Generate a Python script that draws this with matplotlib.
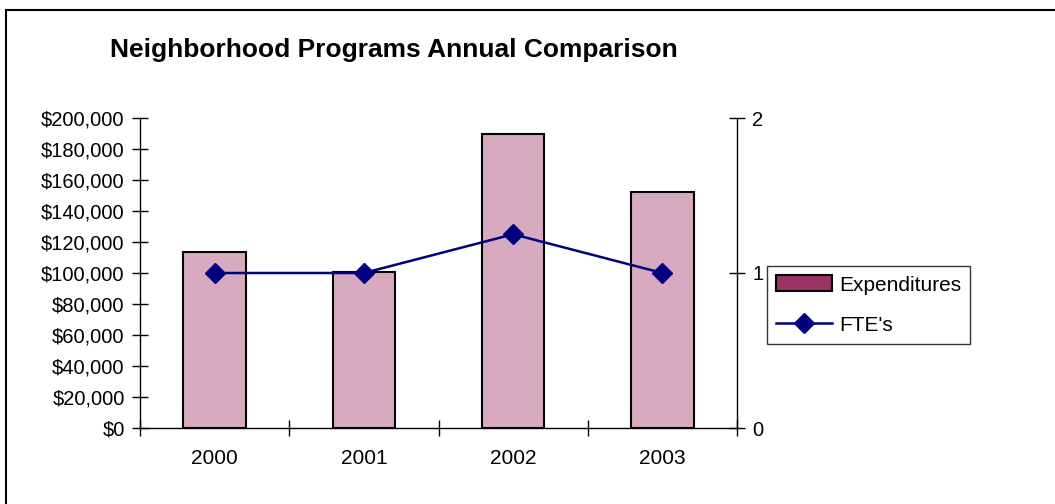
import matplotlib.pyplot as plt
import numpy as np
from matplotlib.lines import Line2D
from matplotlib.patches import Patch
from matplotlib.ticker import FuncFormatter

plt.rcParams['font.family'] = ['Liberation Sans', 'DejaVu Sans']

years = ["2000", "2001", "2002", "2003"]
expenditures = [113500, 100500, 189700, 152300]
ftes = [1, 1, 1.25, 1]

fig = plt.figure(figsize=(10.55, 5.04), dpi=100)
W, H = 1055, 504
ax = fig.add_axes([140 / W, 1 - 428 / H, (737 - 140) / W, (428 - 118) / H])
ax2 = ax.twinx()

x = np.arange(len(years))
ax.bar(x, expenditures, width=0.42, color="#d7aac0", edgecolor="black", linewidth=1.5, zorder=2)
ax2.plot(x, ftes, color="#000080", linewidth=1.8, marker="D", markersize=10, zorder=3)

ax.set_xlim(-0.5, len(years) - 0.5)
ax.set_ylim(0, 200000)
ax.set_yticks(np.arange(0, 200001, 20000))
ax.yaxis.set_major_formatter(FuncFormatter(lambda v, p: "${:,.0f}".format(v)))
ax2.set_ylim(0, 2)
ax2.set_yticks([0, 1, 2])

ax.set_xticks(x)
ax.set_xticklabels(years)
ax.set_xticks(np.arange(-0.5, len(years)), minor=True)
ax.tick_params(axis="x", which="major", length=0, pad=15, labelsize=15)
ax.tick_params(axis="x", which="minor", direction="inout", length=12, width=1)
ax.tick_params(axis="y", direction="inout", length=12, width=1, labelsize=14.5, pad=5)
ax2.tick_params(axis="y", direction="inout", length=12, width=1, labelsize=14.5, pad=5)

for a in (ax, ax2):
    a.spines["top"].set_visible(False)
    for s in ("left", "right", "bottom"):
        a.spines[s].set_linewidth(1)
ax.spines["right"].set_visible(False)
ax2.spines["left"].set_visible(False)
ax2.spines["bottom"].set_visible(False)

fig.text(110 / W, 1 - 50 / H, "Neighborhood Programs Annual Comparison",
         fontsize=19, fontweight="bold", va="center", ha="left")

handles = [Patch(facecolor="#993366", edgecolor="black", linewidth=1.5),
           Line2D([], [], color="#000080", linewidth=1.8, marker="D", markersize=10)]
leg = fig.legend(handles, ["Expenditures", "FTE's"], loc="upper left",
                 bbox_to_anchor=(767 / W, 1 - 266 / H), fontsize=15,
                 frameon=True, fancybox=False, edgecolor="black",
                 borderpad=0.45, labelspacing=1.0, handlelength=2.65,
                 handleheight=0.8, handletextpad=0.35, borderaxespad=0)
leg.get_frame().set_linewidth(1)

# outer chart frame (only top and left edges fall inside the image)
fig.add_artist(Line2D([6 / W, 6 / W], [0, 1 - 10 / H], color="black", linewidth=1.5))
fig.add_artist(Line2D([6 / W, 1], [1 - 10 / H, 1 - 10 / H], color="black", linewidth=1.5))

fig.savefig("out.png", dpi=100)
